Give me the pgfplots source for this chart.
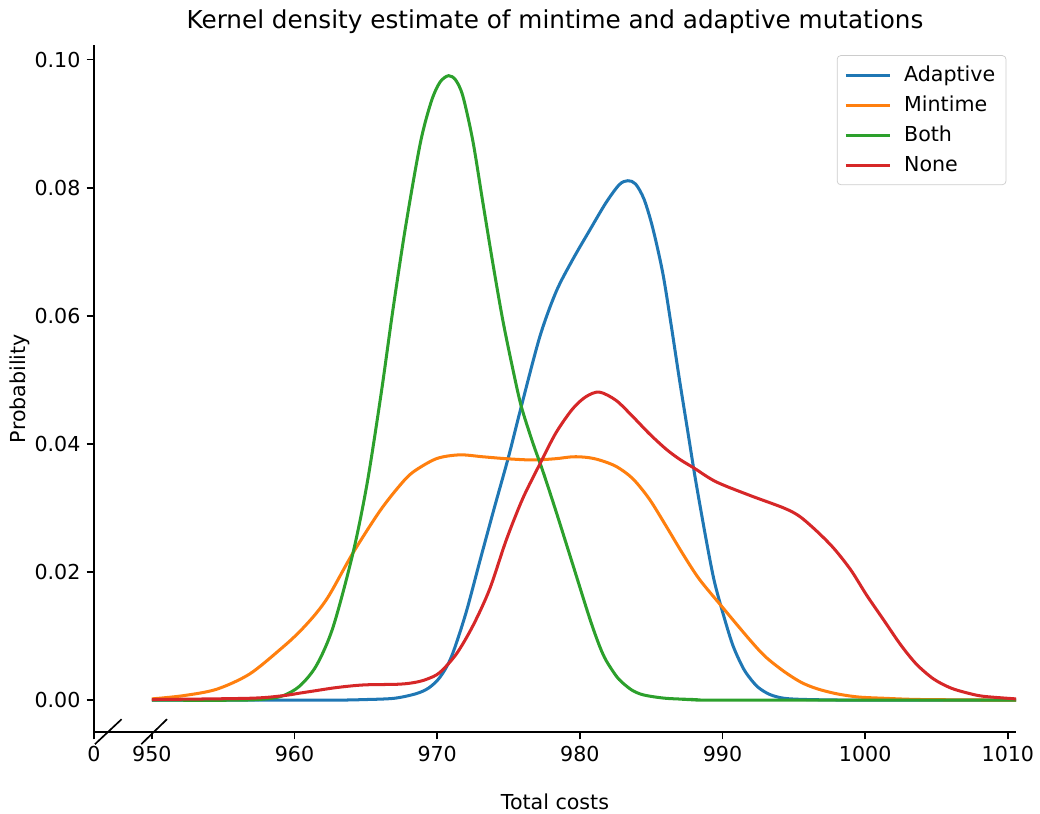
\documentclass[border=0pt]{standalone}
\usepackage{fontspec}
\setmainfont{DejaVu Sans}
\usepackage{pgfplots}
\pgfplotsset{compat=1.18}
\definecolor{tabblue}{HTML}{1F77B4}
\definecolor{taborange}{HTML}{FF7F0E}
\definecolor{tabgreen}{HTML}{2CA02C}
\definecolor{tabred}{HTML}{D62728}
\begin{document}
\begin{tikzpicture}
\path (-52.9pt,-45.6pt) rectangle (532.1pt,412.3pt);
\begin{axis}[
  at={(0,0)}, anchor=south west,
  scale only axis, width=519.2pt, height=387pt,
  xmin=945.94, xmax=1010.57, ymin=-0.005, ymax=0.1023,
  axis x line*=bottom, axis y line*=left,
  axis line style={line width=0.94pt, -},
  tick style={line width=0.94pt, black},
  tick align=outside, major tick length=4.1pt,
  xtick={945.94,950,960,970,980,990,1000,1010},
  xticklabels={0,950,960,970,980,990,1000,1010},
  ytick={0,0.02,0.04,0.06,0.08,0.10},
  yticklabel style={/pgf/number format/.cd, fixed, fixed zerofill, precision=2},
  /pgf/number format/assume math mode=true,
  ticklabel style={font=\fontsize{11.6}{13.9}\selectfont},
  scaled y ticks=false,
  title={Kernel density estimate of mintime and adaptive mutations},
  title style={font=\fontsize{13.9}{16.7}\selectfont, at={(axis description cs:0.5,1)}, anchor=center, yshift=6.9pt, inner sep=0pt},
  xlabel={Total costs},
  xlabel style={font=\fontsize{11.6}{13.9}\selectfont, at={(axis description cs:0.5,0)}, anchor=center, yshift=-39.4pt, inner sep=0pt},
  ylabel={Probability},
  ylabel style={font=\fontsize{11.6}{13.9}\selectfont, at={(axis description cs:-0.0802,0.5)}, anchor=center, inner sep=0pt},
  legend style={at={(axis description cs:0.9895,0.985)}, anchor=north east, draw=black!20, rounded corners=2pt, font=\fontsize{11.6}{13.9}\selectfont, row sep=2.6pt, inner sep=4pt,
    /tikz/every odd column/.append style={column sep=5pt}},
  legend cell align=left,
  legend image code/.code={\draw[#1] (0pt,0pt) -- (25pt,0pt);},
  clip=false,
  every axis plot/.append style={line width=1.7pt, smooth, tension=0.5},
]
\addplot[tabblue] coordinates {
(950,0) (962,0) (965,0.0001) (967,0.0003) (968.5,0.0010) (969.4,0.0019) (970.2,0.0036) (971,0.0068) (972,0.0135) (973,0.0218) (974,0.0300) (975,0.0380) (975.9,0.0459) (977.2,0.0568) (978.34,0.0638) (979.5,0.0688) (980.67,0.0733) (981.84,0.0777) (982.77,0.0805) (983.36,0.0811) (983.9,0.0806) (984.5,0.0782) (985.11,0.0737) (985.81,0.0667) (986.39,0.0587) (986.97,0.0502) (987.56,0.0420) (988.1,0.0345) (988.84,0.0252) (989.4,0.0188) (990.0,0.0138) (990.7,0.0087) (991.4,0.0052) (991.9,0.0035) (992.5,0.0020) (993.3,0.0009) (994.3,0.0003) (996,0.0001) (1000,0) (1010.57,0)
};
\addlegendentry{Adaptive}
\addplot[taborange] coordinates {
(950,0.0002) (952.19,0.0007) (954.53,0.0017) (956.86,0.0041) (959.19,0.0083) (960.4,0.0108) (961.53,0.0136) (962.46,0.0165) (964.1,0.0230) (965.97,0.0295) (967.37,0.0335) (968.3,0.0356) (969.94,0.0377) (971.57,0.0383) (973.2,0.0380) (974.84,0.0377) (976.7,0.0375) (978.3,0.0377) (979.5,0.0380) (980.5,0.0379) (981.37,0.0375) (982.54,0.0365) (983.7,0.0346) (984.87,0.0314) (986.04,0.0272) (987.2,0.0229) (988.37,0.0189) (989.96,0.0146) (991.88,0.0095) (993,0.0068) (994.3,0.0045) (995.5,0.0028) (996.6,0.0018) (998,0.0010) (999.5,0.0005) (1001.3,0.0003) (1004,0.0001) (1010.57,0)
};
\addlegendentry{Mintime}
\addplot[tabgreen] coordinates {
(950,0) (956,0) (958,0.0002) (959.2,0.0007) (960.36,0.0022) (961.53,0.0054) (962.7,0.0114) (964.1,0.0230) (965.1,0.0340) (966.08,0.0480) (966.9,0.0610) (967.79,0.0740) (968.82,0.0870) (969.59,0.0935) (970.2,0.0965) (970.8,0.0975) (971.3,0.0968) (971.8,0.0943) (972.5,0.0873) (973.2,0.0777) (973.9,0.0682) (974.6,0.0593) (975.3,0.0517) (975.89,0.0459) (976.7,0.0402) (977.4,0.0358) (978.34,0.0294) (979.5,0.0212) (980.67,0.0129) (981.37,0.0085) (981.84,0.0062) (982.54,0.0038) (983.0,0.0027) (983.7,0.0015) (984.5,0.0008) (986,0.0003) (988,0.0001) (990,0) (1010.57,0)
};
\addlegendentry{Both}
\addplot[tabred] coordinates {
(950,0.0001) (956.86,0.0003) (959.19,0.0007) (960.36,0.0011) (961.53,0.0015) (962.7,0.0019) (963.86,0.0022) (965.03,0.0024) (967.37,0.0025) (968.5,0.0028) (969.3,0.0033) (970.17,0.0043) (971.34,0.0072) (972.5,0.0116) (973.67,0.0173) (974.84,0.0250) (976.0,0.0315) (977.27,0.0372) (978.34,0.0418) (979.5,0.0455) (980.44,0.0474) (981.37,0.0481) (982.54,0.0468) (983.7,0.0443) (984.87,0.0416) (986.04,0.0392) (987.0,0.0376) (988.03,0.0362) (989.54,0.0341) (991.88,0.0320) (994.3,0.0300) (995.4,0.0287) (996.6,0.0264) (997.8,0.0237) (999.0,0.0203) (1000.1,0.0164) (1001.3,0.0125) (1002.5,0.0086) (1003.6,0.0056) (1004.8,0.0033) (1006.0,0.0019) (1007.2,0.0011) (1008.3,0.0006) (1010.57,0.0002)
};
\addlegendentry{None}
\draw[line width=0.94pt] (axis cs:946.01,-0.00687) -- (axis cs:947.88,-0.00297);
\draw[line width=0.94pt] (axis cs:949.26,-0.00687) -- (axis cs:951.06,-0.00297);
\end{axis}
\end{tikzpicture}
\end{document}
